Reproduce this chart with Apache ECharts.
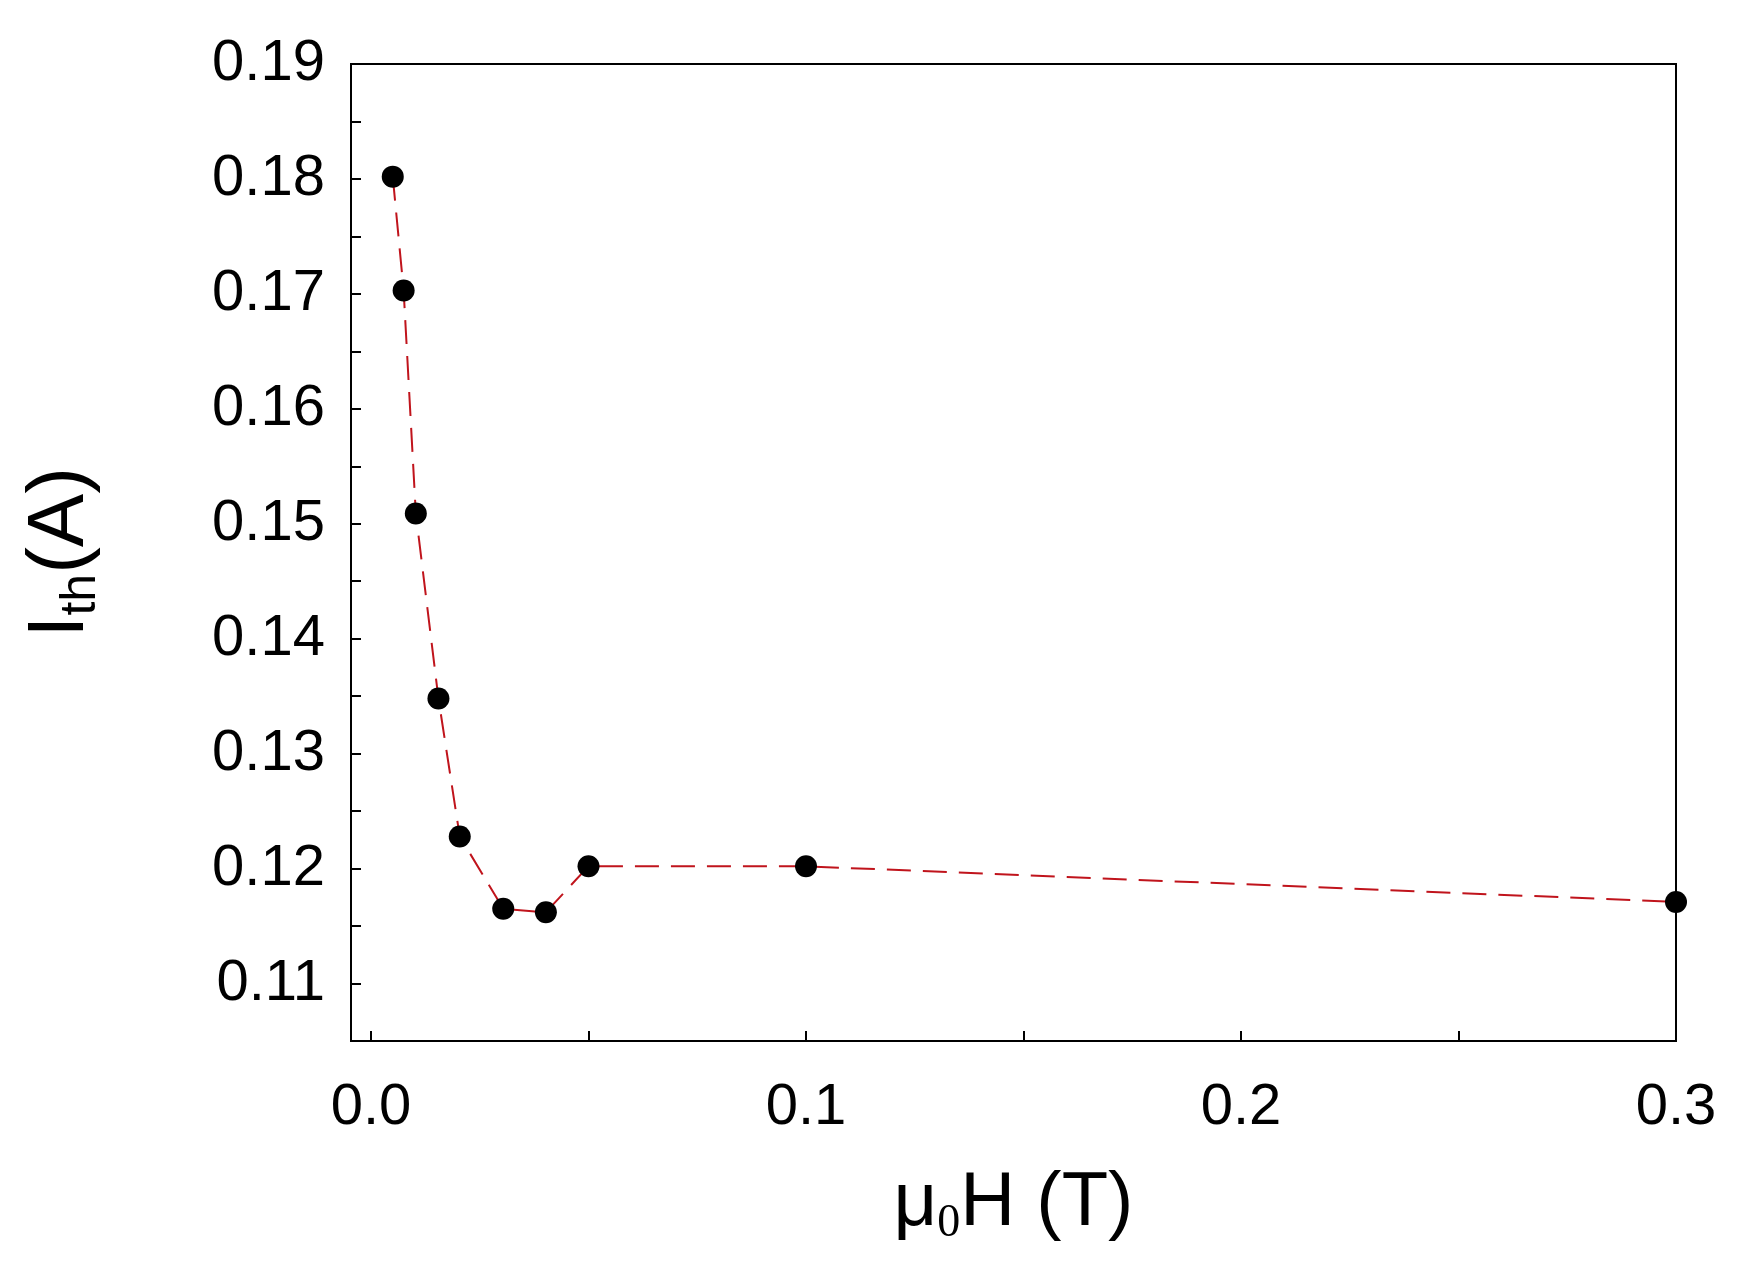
<!DOCTYPE html>
<html>
<head>
<meta charset="utf-8">
<script src="https://cdn.jsdelivr.net/npm/echarts@6/dist/echarts.min.js"></script>
<style>html,body{margin:0;padding:0;background:#fff}#chart{width:1749px;height:1278px}</style>
</head>
<body>
<div id="chart"></div>
<script>
// 磁场 (T)
var fieldT = [0.005, 0.0075, 0.0103, 0.0155, 0.0204, 0.0304, 0.0402, 0.05, 0.1, 0.3];
// 阈值电流 (A)
var currentA = [0.1802, 0.1703, 0.1509, 0.1348, 0.1228, 0.1165, 0.1162, 0.1202, 0.1202, 0.1171];

var chart = echarts.init(document.getElementById('chart'));

var points = [];
for (var i = 0; i < fieldT.length; i++) {
    points.push([fieldT[i], currentA[i]]);
}

var isMult = function (v, step) {
    return Math.abs(v / step - Math.round(v / step)) < 1e-6;
};

var xMin = -0.0046, xMax = 0.3;
var plotLeft = 351, plotRight = 73, plotW = 1749 - plotLeft - plotRight;
// 刻度轴从0开始，单独放一个网格
var tickLeft = plotLeft + Math.round(-xMin / (xMax - xMin) * plotW);

var option = {
    animation: false,
    grid: [
        { left: plotLeft, right: plotRight, top: 64, bottom: 237, show: true, borderColor: '#000', borderWidth: 2 },
        { left: tickLeft, right: plotRight, top: 64, bottom: 237 }
    ],
    xAxis: [{
        type: 'value', min: xMin, max: xMax, gridIndex: 0,
        axisLine: { onZero: false, lineStyle: { color: '#000', width: 2 } },
        axisTick: { show: false },
        splitLine: { show: false },
        axisLabel: { show: false },
        name: '{mu|\u03bc}{sub|0}{mu|H (T)}', nameLocation: 'middle', nameGap: 120,
        nameTextStyle: {
            rich: {
                mu: { fontSize: 76, fontFamily: 'Liberation Sans', color: '#000' },
                sub: { fontSize: 46, fontFamily: 'Liberation Serif', color: '#000', padding: [40, 0, 0, 0] }
            }
        }
    }, {
        type: 'value', min: 0, max: xMax, interval: 0.05, gridIndex: 1,
        axisLine: { show: false },
        axisTick: { inside: true, length: 10, lineStyle: { color: '#000', width: 2 } },
        splitLine: { show: false },
        axisLabel: {
            margin: 38, color: '#000', fontSize: 58, fontFamily: 'Liberation Sans',
            formatter: function (v) { return isMult(v, 0.1) ? v.toFixed(1) : ''; }
        }
    }],
    yAxis: [{
        type: 'value', min: 0.105, max: 0.19, interval: 0.005, gridIndex: 0,
        axisLine: { show: true, onZero: false, lineStyle: { color: '#000', width: 2 } },
        axisTick: { show: true, inside: true, length: 10, lineStyle: { color: '#000', width: 2 } },
        splitLine: { show: false },
        axisLabel: {
            margin: 26, color: '#000', fontSize: 58, fontFamily: 'Liberation Sans',
            formatter: function (v) { return isMult(v, 0.01) ? v.toFixed(2) : ''; }
        },
        name: '{i|I}{sub|th}{i|(A)}', nameLocation: 'middle', nameGap: 245,
        nameTextStyle: {
            rich: {
                i: { fontSize: 80, fontFamily: 'Liberation Sans', color: '#000' },
                sub: { fontSize: 50, fontFamily: 'Liberation Sans', color: '#000', padding: [40, 0, 0, 0] }
            }
        }
    }, {
        type: 'value', min: 0.105, max: 0.19, gridIndex: 1, show: false
    }],
    series: [{
        type: 'line',
        xAxisIndex: 0, yAxisIndex: 0,
        data: points,
        symbol: 'circle',
        symbolSize: 22,
        itemStyle: { color: '#000' },
        lineStyle: { color: '#c0141c', width: 2, type: [24, 12] }
    }]
};

chart.setOption(option);
</script>
</body>
</html>
